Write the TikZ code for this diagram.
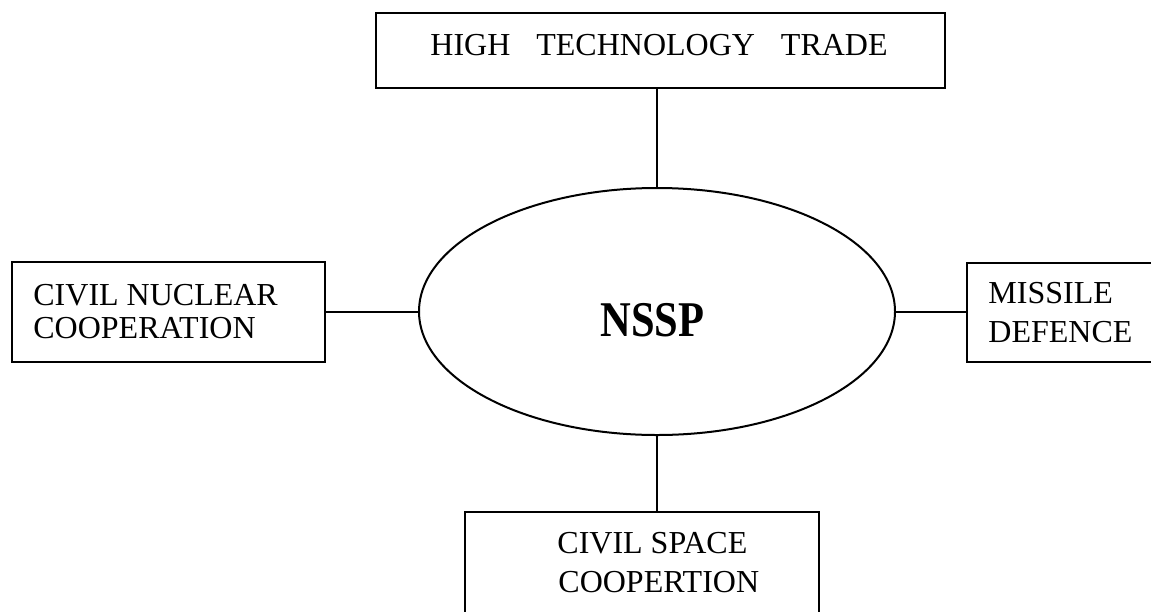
\documentclass[tikz,border=0pt]{standalone}
\usepackage{fontspec}
\usepackage{graphicx}
\setmainfont{Liberation Serif}
\usetikzlibrary{shapes.geometric}
\begin{document}
\begin{tikzpicture}[x=0.5pt,y=-0.5pt,
  box/.style={draw,line width=1pt,rectangle,inner sep=0pt},
  lbl/.style={inner sep=0pt,font=\fontsize{16}{18}\selectfont,anchor=base west},
  conn/.style={line width=1pt}]
\useasboundingbox (0,0) rectangle (1151,611);
\clip (0,0) rectangle (1151,611);
% boxes
\node[box,minimum width=284.5pt,minimum height=37.5pt] (top) at (660.5,50.5) {};
\node[box,minimum width=156.5pt,minimum height=50pt] (left) at (168.5,312) {};
\node[box,minimum width=104pt,minimum height=49.5pt] (right) at (1071,312.5) {};
\node[box,minimum width=177pt,minimum height=64pt] (bottom) at (642,576) {};
% ellipse
\node[draw,line width=1pt,ellipse,inner sep=0pt,minimum width=238pt,minimum height=123.5pt] (ell) at (657,311.5) {};
% texts
\node[lbl] (ttop) at (430,55) {HIGH\hspace{13pt}TECHNOLOGY\hspace{13pt}TRADE};
\node[lbl] (tl1) at (33,305) {CIVIL NUCLEAR};
\node[lbl] (tl2) at (33,338) {COOPERATION};
\node[lbl] (tr1) at (988,303) {MISSILE};
\node[lbl] (tr2) at (988,342) {DEFENCE};
\node[lbl] (tb1) at (557,553) {CIVIL SPACE};
\node[lbl] (tb2) at (558,592) {COOPERTION};
\node[inner sep=0pt,anchor=base west,font=\fontsize{25}{28}\selectfont\bfseries] (nssp) at (600,336) {\scalebox{0.85}[1]{NSSP}};
% connectors
\draw[conn] (ell.north) -- (ell.north |- top.south);
\draw[conn] (ell.west) -- (ell.west -| left.east);
\draw[conn] (ell.east) -- (ell.east -| right.west);
\draw[conn] (ell.south) -- (ell.south |- bottom.north);
\end{tikzpicture}
\end{document}
